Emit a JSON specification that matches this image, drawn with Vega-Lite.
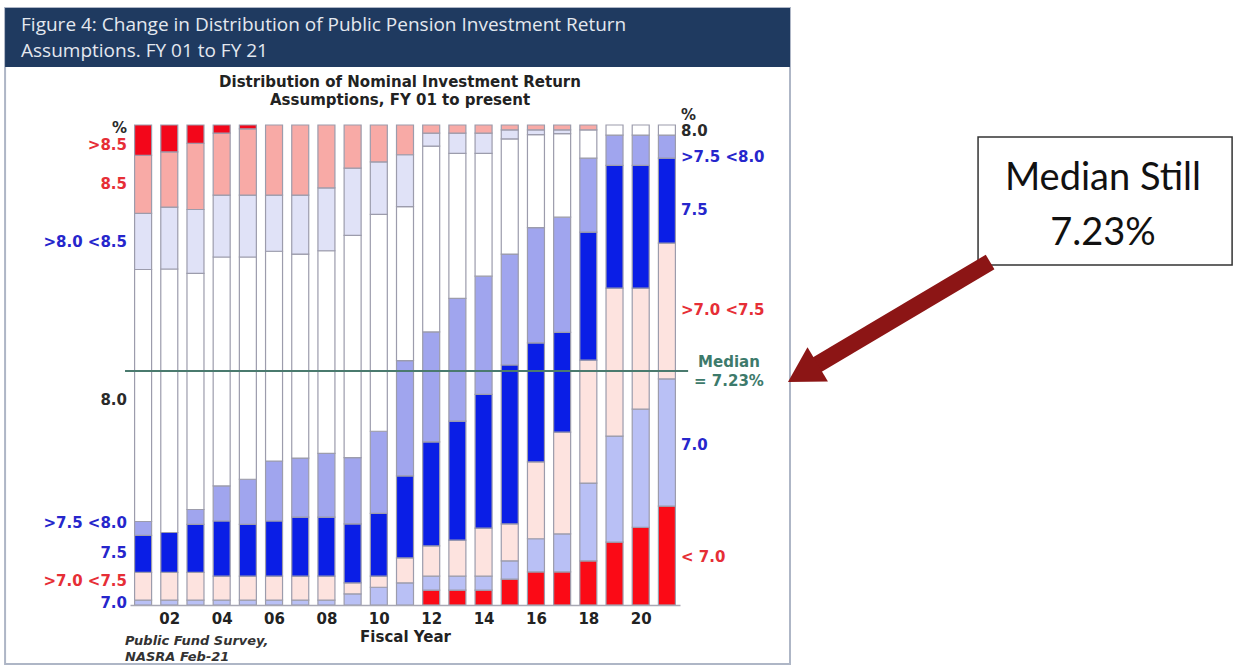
{
  "$schema": "https://vega.github.io/schema/vega-lite/v6.json",
  "width": 550,
  "height": 480,
  "autosize": {"type": "none"},
  "padding": {"left": 130, "top": 125, "right": 554, "bottom": 61},
  "background": "#ffffff",
  "config": {"view": {"stroke": null}},
  "resolve": {"scale": {"color": "independent"}, "axis": {"x": "independent", "y": "independent"}},
  "datasets": {
    "dist": [
      {"year": 1, "lt70": 0, "p70": 1.0, "b7075": 5.8, "p75": 7.7, "b7580": 2.9, "p80": 52.5, "b8085": 11.7, "p85": 12.1, "gt85": 6.3},
      {"year": 2, "lt70": 0, "p70": 1.0, "b7075": 5.8, "p75": 8.3, "b7580": 0, "p80": 54.9, "b8085": 12.9, "p85": 11.5, "gt85": 5.6},
      {"year": 3, "lt70": 0, "p70": 1.0, "b7075": 5.8, "p75": 10.0, "b7580": 3.1, "p80": 49.2, "b8085": 13.3, "p85": 13.8, "gt85": 3.8},
      {"year": 4, "lt70": 0, "p70": 1.0, "b7075": 5.0, "p75": 11.5, "b7580": 7.3, "p80": 47.7, "b8085": 12.9, "p85": 12.9, "gt85": 1.7},
      {"year": 5, "lt70": 0, "p70": 1.0, "b7075": 5.0, "p75": 10.8, "b7580": 9.4, "p80": 46.3, "b8085": 12.9, "p85": 13.8, "gt85": 0.8},
      {"year": 6, "lt70": 0, "p70": 1.0, "b7075": 5.0, "p75": 11.5, "b7580": 12.5, "p80": 43.7, "b8085": 11.7, "p85": 14.6, "gt85": 0},
      {"year": 7, "lt70": 0, "p70": 1.0, "b7075": 5.0, "p75": 12.3, "b7580": 12.3, "p80": 42.5, "b8085": 12.3, "p85": 14.6, "gt85": 0},
      {"year": 8, "lt70": 0, "p70": 1.0, "b7075": 5.0, "p75": 12.3, "b7580": 13.3, "p80": 42.2, "b8085": 13.1, "p85": 13.1, "gt85": 0},
      {"year": 9, "lt70": 0, "p70": 2.3, "b7075": 2.3, "p75": 12.3, "b7580": 13.8, "p80": 46.3, "b8085": 14.0, "p85": 9.0, "gt85": 0},
      {"year": 10, "lt70": 0, "p70": 3.7, "b7075": 2.3, "p75": 13.1, "b7580": 17.1, "p80": 45.2, "b8085": 10.9, "p85": 7.7, "gt85": 0},
      {"year": 11, "lt70": 0, "p70": 4.6, "b7075": 5.2, "p75": 17.1, "b7580": 24.0, "p80": 32.1, "b8085": 10.8, "p85": 6.2, "gt85": 0},
      {"year": 12, "lt70": 3.1, "p70": 2.9, "b7075": 6.3, "p75": 21.7, "b7580": 22.9, "p80": 38.7, "b8085": 2.7, "p85": 1.7, "gt85": 0},
      {"year": 13, "lt70": 3.1, "p70": 2.9, "b7075": 7.5, "p75": 24.8, "b7580": 25.6, "p80": 30.2, "b8085": 4.2, "p85": 1.7, "gt85": 0},
      {"year": 14, "lt70": 3.1, "p70": 2.9, "b7075": 10.0, "p75": 27.9, "b7580": 24.6, "p80": 25.6, "b8085": 4.2, "p85": 1.7, "gt85": 0},
      {"year": 15, "lt70": 5.4, "p70": 3.8, "b7075": 7.7, "p75": 33.1, "b7580": 23.1, "p80": 24.0, "b8085": 1.9, "p85": 1.0, "gt85": 0},
      {"year": 16, "lt70": 6.9, "p70": 6.9, "b7075": 16.0, "p75": 24.8, "b7580": 24.0, "p80": 19.4, "b8085": 1.0, "p85": 1.0, "gt85": 0},
      {"year": 17, "lt70": 6.9, "p70": 7.9, "b7075": 21.2, "p75": 20.8, "b7580": 24.0, "p80": 17.4, "b8085": 0.8, "p85": 1.0, "gt85": 0},
      {"year": 18, "lt70": 9.2, "p70": 16.2, "b7075": 25.6, "p75": 26.7, "b7580": 15.4, "p80": 5.9, "b8085": 0, "p85": 1.0, "gt85": 0},
      {"year": 19, "lt70": 13.1, "p70": 22.1, "b7075": 30.8, "p75": 25.6, "b7580": 6.3, "p80": 2.1, "b8085": 0, "p85": 0, "gt85": 0},
      {"year": 20, "lt70": 16.2, "p70": 24.6, "b7075": 25.2, "p75": 25.6, "b7580": 6.3, "p80": 2.1, "b8085": 0, "p85": 0, "gt85": 0},
      {"year": 21, "lt70": 20.6, "p70": 26.5, "b7075": 28.3, "p75": 17.7, "b7580": 4.8, "p80": 2.1, "b8085": 0, "p85": 0, "gt85": 0}
    ],
    "labels": [
      {"label": "%", "side": "L", "pos": 99.4, "tone": "black"},
      {"label": ">8.5", "side": "L", "pos": 95.8, "tone": "red"},
      {"label": "8.5", "side": "L", "pos": 87.7, "tone": "red"},
      {"label": ">8.0 <8.5", "side": "L", "pos": 75.6, "tone": "blue"},
      {"label": "8.0", "side": "L", "pos": 42.7, "tone": "black"},
      {"label": ">7.5 <8.0", "side": "L", "pos": 17.1, "tone": "blue"},
      {"label": "7.5", "side": "L", "pos": 10.8, "tone": "blue"},
      {"label": ">7.0 <7.5", "side": "L", "pos": 5.0, "tone": "red"},
      {"label": "7.0", "side": "L", "pos": 0.4, "tone": "blue"},
      {"label": "%", "side": "R", "pos": 102.1, "tone": "black"},
      {"label": "8.0", "side": "R", "pos": 98.75, "tone": "black"},
      {"label": ">7.5 <8.0", "side": "R", "pos": 93.3, "tone": "blue"},
      {"label": "7.5", "side": "R", "pos": 82.3, "tone": "blue"},
      {"label": ">7.0 <7.5", "side": "R", "pos": 61.5, "tone": "red"},
      {"label": "7.0", "side": "R", "pos": 33.3, "tone": "blue"},
      {"label": "< 7.0", "side": "R", "pos": 10.0, "tone": "red"},
      {"label": "Median", "side": "M", "pos": 50.6, "tone": "green"},
      {"label": "= 7.23%", "side": "M", "pos": 46.7, "tone": "green"}
    ]
  },
  "layer": [
    {
      "data": {"values": [{}]},
      "mark": {"type": "rect", "fill": "transparent", "stroke": "#aeb6c6", "strokeWidth": 2},
      "encoding": {
        "x": {"datum": -4.27, "type": "quantitative", "scale": {"domain": [0.5, 21.5], "nice": false, "zero": false, "padding": 0}, "axis": null},
        "x2": {"datum": 25.7},
        "y": {"datum": 124.4, "type": "quantitative", "scale": {"domain": [0, 100], "nice": false, "zero": false}, "axis": null},
        "y2": {"datum": -12.3}
      }
    },
    {
      "data": {"values": [{}]},
      "mark": {"type": "rect", "fill": "#1f3a60"},
      "encoding": {
        "x": {"datum": -4.27, "type": "quantitative", "scale": {"domain": [0.5, 21.5], "nice": false, "zero": false, "padding": 0}, "axis": null},
        "x2": {"datum": 25.7},
        "y": {"datum": 124.4, "type": "quantitative", "scale": {"domain": [0, 100], "nice": false, "zero": false}, "axis": null},
        "y2": {"datum": 112.1}
      }
    },
    {
      "data": {"values": [{}]},
      "mark": {"type": "text", "text": ["Figure 4: Change in Distribution of Public Pension Investment Return", "Assumptions. FY 01 to FY 21"], "align": "left", "baseline": "alphabetic", "font": "Open Sans", "fontSize": 19, "lineHeight": 26, "color": "#e4e8ef"},
      "encoding": {
        "x": {"datum": -3.66, "type": "quantitative", "scale": {"domain": [0.5, 21.5], "nice": false, "zero": false, "padding": 0}, "axis": null},
        "y": {"datum": 119.58, "type": "quantitative", "scale": {"domain": [0, 100], "nice": false, "zero": false}, "axis": null}
      }
    },
    {
      "data": {"values": [{}]},
      "mark": {"type": "text", "text": ["Distribution of Nominal Investment Return", "Assumptions, FY 01 to present"], "align": "center", "baseline": "alphabetic", "font": "DejaVu Sans", "fontWeight": "bold", "fontSize": 15, "lineHeight": 18, "color": "#222222"},
      "encoding": {
        "x": {"datum": 10.81, "type": "quantitative", "scale": {"domain": [0.5, 21.5], "nice": false, "zero": false, "padding": 0}, "axis": null},
        "y": {"datum": 107.9, "type": "quantitative", "scale": {"domain": [0, 100], "nice": false, "zero": false}, "axis": null}
      }
    },
    {
      "data": {"name": "dist"},
      "transform": [
        {"fold": ["lt70", "p70", "b7075", "p75", "b7580", "p80", "b8085", "p85", "gt85"], "as": ["cat", "pct"]},
        {"filter": "datum.pct > 0"},
        {"calculate": "indexof(['lt70','p70','b7075','p75','b7580','p80','b8085','p85','gt85'], datum.cat)", "as": "k"}
      ],
      "mark": {"type": "bar", "width": 17, "stroke": "#9c9cac", "strokeWidth": 1.2},
      "encoding": {
        "x": {
          "field": "year", "type": "quantitative",
          "scale": {"domain": [0.5, 21.5], "nice": false, "zero": false, "padding": 0},
          "axis": {
            "orient": "bottom", "zindex": 1,
            "values": [2, 4, 6, 8, 10, 12, 14, 16, 18, 20],
            "labelExpr": "datum.value < 10 ? '0' + datum.value : '' + datum.value",
            "title": "Fiscal Year", "ticks": false, "grid": false,
            "domainColor": "#a8a8b4", "domainWidth": 1.5,
            "labelFont": "DejaVu Sans", "labelFontWeight": "bold", "labelFontSize": 15, "labelColor": "#222222", "labelPadding": 6,
            "titleFont": "DejaVu Sans", "titleFontSize": 15, "titleFontWeight": "bold", "titleColor": "#222222", "titlePadding": 3
          }
        },
        "y": {"field": "pct", "type": "quantitative", "stack": "zero", "scale": {"domain": [0, 100], "nice": false, "zero": false}, "axis": null},
        "color": {
          "field": "cat", "type": "nominal",
          "scale": {
            "domain": ["lt70", "p70", "b7075", "p75", "b7580", "p80", "b8085", "p85", "gt85"],
            "range": ["#fb0a16", "#b9c0f5", "#fde3df", "#0a1ee6", "#a0a5ee", "#ffffff", "#e0e2f7", "#f8aaa6", "#f3061a"]
          },
          "legend": null
        },
        "order": {"field": "k", "type": "quantitative"}
      }
    },
    {
      "data": {"values": [{}]},
      "mark": {"type": "rule", "color": "#4a7a6e", "strokeWidth": 2},
      "encoding": {
        "x": {"datum": 0.31, "type": "quantitative", "scale": {"domain": [0.5, 21.5], "nice": false, "zero": false, "padding": 0}, "axis": null},
        "x2": {"datum": 21.81},
        "y": {"datum": 48.75, "type": "quantitative", "scale": {"domain": [0, 100], "nice": false, "zero": false}, "axis": null}
      }
    },
    {
      "data": {"name": "labels"},
      "transform": [{"filter": "datum.side == 'L'"}],
      "mark": {"type": "text", "align": "right", "baseline": "middle", "font": "DejaVu Sans", "fontWeight": "bold", "fontSize": 15},
      "encoding": {
        "x": {"datum": 0.385, "type": "quantitative", "scale": {"domain": [0.5, 21.5], "nice": false, "zero": false, "padding": 0}, "axis": null},
        "y": {"field": "pos", "type": "quantitative", "scale": {"domain": [0, 100], "nice": false, "zero": false}, "axis": null},
        "text": {"field": "label"},
        "color": {"field": "tone", "type": "nominal", "scale": {"domain": ["black", "red", "blue", "green"], "range": ["#2a2a2a", "#e62e36", "#2626cc", "#3d7a6b"]}, "legend": null}
      }
    },
    {
      "data": {"name": "labels"},
      "transform": [{"filter": "datum.side == 'R'"}],
      "mark": {"type": "text", "align": "left", "baseline": "middle", "font": "DejaVu Sans", "fontWeight": "bold", "fontSize": 15},
      "encoding": {
        "x": {"datum": 21.54, "type": "quantitative", "scale": {"domain": [0.5, 21.5], "nice": false, "zero": false, "padding": 0}, "axis": null},
        "y": {"field": "pos", "type": "quantitative", "scale": {"domain": [0, 100], "nice": false, "zero": false}, "axis": null},
        "text": {"field": "label"},
        "color": {"field": "tone", "type": "nominal", "scale": {"domain": ["black", "red", "blue", "green"], "range": ["#2a2a2a", "#e62e36", "#2626cc", "#3d7a6b"]}, "legend": null}
      }
    },
    {
      "data": {"name": "labels"},
      "transform": [{"filter": "datum.side == 'M'"}],
      "mark": {"type": "text", "align": "center", "baseline": "middle", "font": "DejaVu Sans", "fontWeight": "bold", "fontSize": 15},
      "encoding": {
        "x": {"datum": 23.37, "type": "quantitative", "scale": {"domain": [0.5, 21.5], "nice": false, "zero": false, "padding": 0}, "axis": null},
        "y": {"field": "pos", "type": "quantitative", "scale": {"domain": [0, 100], "nice": false, "zero": false}, "axis": null},
        "text": {"field": "label"},
        "color": {"field": "tone", "type": "nominal", "scale": {"domain": ["black", "red", "blue", "green"], "range": ["#2a2a2a", "#e62e36", "#2626cc", "#3d7a6b"]}, "legend": null}
      }
    },
    {
      "data": {"values": [{}]},
      "mark": {"type": "text", "text": ["Public Fund Survey,", "NASRA Feb-21"], "align": "left", "baseline": "alphabetic", "font": "DejaVu Sans", "fontWeight": "bold", "fontStyle": "italic", "fontSize": 13, "lineHeight": 16, "color": "#333333"},
      "encoding": {
        "x": {"datum": 0.31, "type": "quantitative", "scale": {"domain": [0.5, 21.5], "nice": false, "zero": false, "padding": 0}, "axis": null},
        "y": {"datum": -8.33, "type": "quantitative", "scale": {"domain": [0, 100], "nice": false, "zero": false}, "axis": null}
      }
    },
    {
      "data": {"values": [{}]},
      "mark": {"type": "rect", "fill": "#ffffff", "stroke": "#333333", "strokeWidth": 1.5},
      "encoding": {
        "x": {"datum": 32.88, "type": "quantitative", "scale": {"domain": [0.5, 21.5], "nice": false, "zero": false, "padding": 0}, "axis": null},
        "x2": {"datum": 42.58},
        "y": {"datum": 97.5, "type": "quantitative", "scale": {"domain": [0, 100], "nice": false, "zero": false}, "axis": null},
        "y2": {"datum": 70.83}
      }
    },
    {
      "data": {"values": [{}]},
      "mark": {"type": "text", "text": ["Median Still", "7.23%"], "align": "center", "baseline": "alphabetic", "font": "Lato", "fontSize": 38, "lineHeight": 55, "color": "#111111"},
      "encoding": {
        "x": {"datum": 37.65, "type": "quantitative", "scale": {"domain": [0.5, 21.5], "nice": false, "zero": false, "padding": 0}, "axis": null},
        "y": {"datum": 86.5, "type": "quantitative", "scale": {"domain": [0, 100], "nice": false, "zero": false}, "axis": null}
      }
    },
    {
      "data": {"values": [{}]},
      "mark": {"type": "rule", "color": "#8c1515", "strokeWidth": 17},
      "encoding": {
        "x": {"datum": 33.34, "type": "quantitative", "scale": {"domain": [0.5, 21.5], "nice": false, "zero": false, "padding": 0}, "axis": null},
        "x2": {"datum": 26.2},
        "y": {"datum": 71.46, "type": "quantitative", "scale": {"domain": [0, 100], "nice": false, "zero": false}, "axis": null},
        "y2": {"datum": 48.33}
      }
    },
    {
      "data": {"values": [{}]},
      "mark": {"type": "point", "shape": "triangle-right", "filled": true, "size": 1600, "angle": 149.3, "color": "#8c1515", "opacity": 1},
      "encoding": {
        "x": {"datum": 26.19, "type": "quantitative", "scale": {"domain": [0.5, 21.5], "nice": false, "zero": false, "padding": 0}, "axis": null},
        "y": {"datum": 48.29, "type": "quantitative", "scale": {"domain": [0, 100], "nice": false, "zero": false}, "axis": null}
      }
    }
  ]
}
